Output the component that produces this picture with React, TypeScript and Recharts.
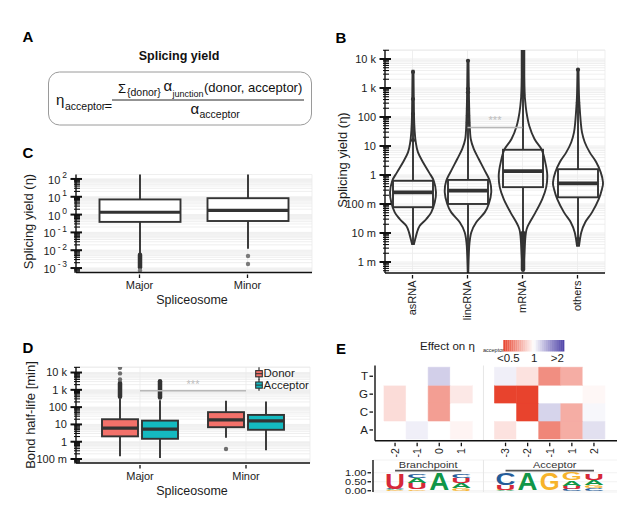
import React from 'react'
import {
  ComposedChart,
  BarChart,
  Bar,
  XAxis,
  YAxis,
  CartesianGrid,
  ReferenceLine,
  Cell,
} from 'recharts'

const font = '"Liberation Sans", Arial, Helvetica, sans-serif'
const textInk = '#1c1c1c'
const lineInk = '#333333'
const axisInk = '#111111'
const gridColor = '#ebebeb'

// ---------- B: splicing yield per transcript class (log10 eta) ----------
const rnaClasses = ['asRNA', 'lincRNA', 'mRNA', 'others']
const yieldQ1 = [-1.11, -1.0, -0.42, -0.77]
const yieldMedian = [-0.6, -0.54, 0.13, -0.29]
const yieldQ3 = [-0.2, -0.17, 0.87, 0.2]
const yieldWhiskerLo = [-2.38, -3.36, -3.3, -2.44]
const yieldWhiskerHi = [3.6, 3.94, 4.4, 3.63]
const yieldOutliers = [
  [1.2, 2.1, 2.62, 3.55],
  [1.82, 2.05, 2.28, 2.85, 2.97, 3.94],
  [],
  [-2.38, -2.2, 2.39, 2.5, 3.63],
]
const yieldOutlierRuns = [[], [], [[-3.25, -2.0], [2.75, 4.4]], []]
// violin outline: [log10 eta, relative half width]
const violinAsRNA = [
  [-2.38, 0.04], [-1.98, 0.16], [-1.75, 0.27], [-1.52, 0.53], [-1.29, 0.73],
  [-0.94, 0.87], [-0.6, 0.92], [-0.2, 0.83], [0.09, 0.64], [0.44, 0.4],
  [0.78, 0.2], [1.13, 0.11], [1.47, 0.07], [2.05, 0.04], [3.6, 0.02],
]
const violinLincRNA = [
  [-3.36, 0.01], [-2.44, 0.05], [-1.98, 0.13], [-1.63, 0.33], [-1.29, 0.67],
  [-1.0, 0.83], [-0.6, 0.93], [-0.2, 0.87], [0.2, 0.64], [0.55, 0.43],
  [0.9, 0.23], [1.24, 0.11], [1.7, 0.07], [2.62, 0.04], [3.94, 0.02],
]
const violinMRNA = [
  [-3.3, 0.02], [-2.1, 0.1], [-1.75, 0.2], [-1.29, 0.5], [-0.83, 0.77],
  [-0.42, 0.93], [0.0, 0.97], [0.4, 0.9], [0.87, 0.75], [1.24, 0.46],
  [1.7, 0.25], [2.16, 0.14], [2.62, 0.08], [3.08, 0.05], [4.4, 0.02],
]
const violinOthers = [
  [-2.44, 0.04], [-1.98, 0.13], [-1.63, 0.29], [-1.29, 0.56], [-0.83, 0.83],
  [-0.48, 0.96], [-0.25, 1.0], [0.09, 0.91], [0.44, 0.73], [0.78, 0.47],
  [1.13, 0.27], [1.47, 0.16], [1.82, 0.11], [2.28, 0.07], [2.74, 0.04], [3.63, 0.02],
]
const yieldViolins = [violinAsRNA, violinLincRNA, violinMRNA, violinOthers]
const yieldTickExps = [-3, -2, -1, 0, 1, 2, 3, 4]
const yieldTickLabels = ['1 m', '10 m', '100 m', '1', '10', '100', '1 k', '10 k']

// ---------- C: splicing yield per spliceosome (log10 eta) ----------
const spliceosomes = ['Major', 'Minor']
const cQ1 = [-0.41, -0.36]
const cMedian = [0.13, 0.24]
const cQ3 = [0.85, 0.92]
const cWhiskerLo = [-2.2, -1.92]
const cWhiskerHi = [2.3, 2.3]
const cOutliers = [[-3.14], [-2.32, -2.77]]
const cOutlierRuns = [[[-2.95, -2.25]], []]
const cTickExps = [-3, -2, -1, 0, 1, 2]

// ---------- D: bond half-life (log10 min) ----------
const donorQ1 = [0.31, 0.84]
const donorMedian = [0.79, 1.26]
const donorQ3 = [1.3, 1.71]
const donorWhiskerLo = [-0.84, 0.23]
const donorWhiskerHi = [2.5, 2.37]
const donorOutliers = [[3.6, 3.95, 4.28], [-0.42]]
const donorOutlierRuns = [[[2.6, 3.4]], []]
const acceptorQ1 = [0.17, 0.69]
const acceptorMedian = [0.73, 1.21]
const acceptorQ3 = [1.22, 1.55]
const acceptorWhiskerLo = [-0.94, -0.5]
const acceptorWhiskerHi = [2.4, 2.32]
const acceptorOutliers = [[], []]
const acceptorOutlierRuns = [[[2.55, 3.5]], []]
const halfLifeTickExps = [-1, 0, 1, 2, 3, 4]
const halfLifeTickLabels = ['100 m', '1', '10', '100', '1 k', '10 k']

// ---------- E: effect on eta_acceptor, and sequence logo ----------
const positionIds = ['bp-2', 'bp-1', 'bp0', 'bp1', 'gap', 'acc-3', 'acc-2', 'acc-1', 'acc1', 'acc2']
const positionLabels = ['-2', '-1', '0', '1', '', '-3', '-2', '-1', '1', '2']
const heatBases = ['A', 'C', 'G', 'T']
const effectA = [1, 1.06, 1, 0.96, null, 0.9, 1, 0.64, 0.74, 1.12]
const effectC = [0.88, 1, 0.7, 1, null, 1, 0.5, 1.17, 0.74, 1.03]
const effectG = [0.88, 1, 0.7, 0.92, null, 0.5, 0.5, 1, 1, 0.97]
const effectT = [1, 1, 1.19, 1, null, 1.06, 0.9, 0.66, 0.74, 1]
// logo stacks, bottom to top: [letter, probability]
const logoStacks = [
  [['G', 0.04], ['A', 0.03], ['C', 0.03], ['U', 0.88]],
  [['G', 0.1], ['U', 0.33], ['A', 0.3], ['C', 0.22]],
  [['C', 0.02], ['G', 0.02], ['U', 0.02], ['A', 0.93]],
  [['G', 0.13], ['A', 0.3], ['U', 0.3], ['C', 0.24]],
  [],
  [['A', 0.03], ['G', 0.03], ['U', 0.27], ['C', 0.64]],
  [['C', 0.02], ['G', 0.02], ['U', 0.02], ['A', 0.93]],
  [['A', 0.02], ['C', 0.02], ['U', 0.02], ['G', 0.93]],
  [['C', 0.12], ['U', 0.15], ['A', 0.3], ['G', 0.4]],
  [['C', 0.15], ['G', 0.15], ['A', 0.3], ['U', 0.38]],
]

const letterColor: Record<string, string> = { A: '#109648', C: '#255C99', G: '#F7B32B', U: '#D62839' }
const letterWidthEm: Record<string, number> = { A: 0.722, C: 0.722, G: 0.778, U: 0.722 }

// ---------- helpers ----------
function boxStats(q1: number, med: number, q3: number, wlo: number, whi: number, dots: number[], runs: number[][]) {
  const all = [wlo, whi, ...dots, ...runs.flat()]
  return { q1, med, q3, wlo, whi, dots, runs, span: [Math.min(...all), Math.max(...all)] }
}

function logTicks(lo: number, hi: number) {
  const out: number[] = []
  for (let e = Math.floor(lo); e <= Math.ceil(hi); e++) {
    for (let k = 1; k <= 9; k++) {
      const v = +(e + Math.log10(k)).toFixed(6)
      if (v >= lo && v <= hi) out.push(v)
    }
  }
  return out
}

function effectColor(r: number | null) {
  if (r == null) return '#ffffff'
  const t = Math.max(-1, Math.min(1, Math.log2(r)))
  const target = t < 0 ? [232, 67, 45] : [75, 63, 166]
  const a = Math.abs(t)
  const c = target.map((ch) => Math.round(255 + (ch - 255) * a))
  return `rgb(${c[0]},${c[1]},${c[2]})`
}

function curveThrough(pts: number[][]) {
  let d = ''
  for (let i = 0; i < pts.length - 1; i++) {
    const p0 = pts[Math.max(i - 1, 0)]
    const p1 = pts[i]
    const p2 = pts[i + 1]
    const p3 = pts[Math.min(i + 2, pts.length - 1)]
    const c1x = p1[0] + (p2[0] - p0[0]) / 6
    const c1y = p1[1] + (p2[1] - p0[1]) / 6
    const c2x = p2[0] - (p3[0] - p1[0]) / 6
    const c2y = p2[1] - (p3[1] - p1[1]) / 6
    d += ` C${c1x.toFixed(2)},${c1y.toFixed(2)} ${c2x.toFixed(2)},${c2y.toFixed(2)} ${p2[0].toFixed(2)},${p2[1].toFixed(2)}`
  }
  return d
}

// ---------- tables ----------
const yieldRows = rnaClasses.map((name, i) => {
  const s = boxStats(yieldQ1[i], yieldMedian[i], yieldQ3[i], yieldWhiskerLo[i], yieldWhiskerHi[i], yieldOutliers[i], yieldOutlierRuns[i])
  const v = yieldViolins[i]
  return {
    name,
    ...s,
    violin: v,
    span: [Math.min(s.span[0], v[0][0]), Math.max(s.span[1], v[v.length - 1][0])],
  }
})

const cRows = spliceosomes.map((name, i) => {
  const s = boxStats(cQ1[i], cMedian[i], cQ3[i], cWhiskerLo[i], cWhiskerHi[i], cOutliers[i], cOutlierRuns[i])
  return { name, stats: s, span: s.span }
})

const dRows = spliceosomes.map((name, i) => {
  const donor = boxStats(donorQ1[i], donorMedian[i], donorQ3[i], donorWhiskerLo[i], donorWhiskerHi[i], donorOutliers[i], donorOutlierRuns[i])
  const acceptor = boxStats(acceptorQ1[i], acceptorMedian[i], acceptorQ3[i], acceptorWhiskerLo[i], acceptorWhiskerHi[i], acceptorOutliers[i], acceptorOutlierRuns[i])
  return { name, donor, acceptor, donorSpan: donor.span, acceptorSpan: acceptor.span }
})

const effectByBase: Record<string, (number | null)[]> = { A: effectA, C: effectC, G: effectG, T: effectT }
const heatRows = positionIds.map((id, i) => {
  const row: any = { id }
  heatBases.forEach((b) => {
    row[b] = effectByBase[b][i] == null ? null : 1
  })
  return row
})

const logoRows = positionIds.map((id, i) => ({
  id,
  stack: logoStacks[i],
  total: logoStacks[i].reduce((s, l) => s + (l[1] as number), 0),
}))

const labelOfPosition: Record<string, string> = {}
positionIds.forEach((id, i) => {
  labelOfPosition[id] = positionLabels[i]
})

// ---------- shapes ----------
function ViolinBox(props: any) {
  const { x, y, width, height, payload } = props
  const [lo, hi] = payload.span
  const py = (v: number) => y + (height * (hi - v)) / (hi - lo)
  const cx = x + width / 2
  const half = width * 0.625
  const right = payload.violin.map(([v, w]: number[]) => [cx + w * half, py(v)])
  const left = payload.violin.map(([v, w]: number[]) => [cx - w * half, py(v)]).reverse()
  const d = `M${right[0][0]},${right[0][1]}${curveThrough(right)} L${left[0][0]},${left[0][1]}${curveThrough(left)} Z`
  return (
    <g>
      <path d={d} fill="none" stroke={lineInk} strokeWidth={1.9} />
      <line x1={cx} x2={cx} y1={py(payload.wlo)} y2={py(payload.q1)} stroke={lineInk} strokeWidth={1.9} />
      <line x1={cx} x2={cx} y1={py(payload.q3)} y2={py(payload.whi)} stroke={lineInk} strokeWidth={1.9} />
      <rect x={x} width={width} y={py(payload.q3)} height={py(payload.q1) - py(payload.q3)} fill="none" stroke={lineInk} strokeWidth={1.9} />
      <line x1={x} x2={x + width} y1={py(payload.med)} y2={py(payload.med)} stroke={lineInk} strokeWidth={3.8} />
      {payload.runs.map((r: number[], i: number) => (
        <line key={'r' + i} x1={cx} x2={cx} y1={py(r[0])} y2={py(r[1])} stroke={lineInk} strokeWidth={4.5} strokeLinecap="round" />
      ))}
      {payload.dots.map((v: number, i: number) => (
        <circle key={'d' + i} cx={cx} cy={py(v)} r={2.1} fill={lineInk} />
      ))}
    </g>
  )
}

function BoxShape(props: any) {
  const { x, y, width, height, stats, fill, dotColor } = props
  const [lo, hi] = stats.span
  const py = (v: number) => y + (height * (hi - v)) / (hi - lo)
  const cx = x + width / 2
  return (
    <g>
      <line x1={cx} x2={cx} y1={py(stats.wlo)} y2={py(stats.q1)} stroke={lineInk} strokeWidth={1.9} />
      <line x1={cx} x2={cx} y1={py(stats.q3)} y2={py(stats.whi)} stroke={lineInk} strokeWidth={1.9} />
      {stats.runs.map((r: number[], i: number) => (
        <line key={'r' + i} x1={cx} x2={cx} y1={py(r[0])} y2={py(r[1])} stroke={lineInk} strokeWidth={4.5} strokeLinecap="round" />
      ))}
      {stats.dots.map((v: number, i: number) => (
        <circle key={'d' + i} cx={cx} cy={py(v)} r={2.2} fill={dotColor} />
      ))}
      <rect x={x} width={width} y={py(stats.q3)} height={py(stats.q1) - py(stats.q3)} fill={fill} stroke={lineInk} strokeWidth={1.9} />
      <line x1={x} x2={x + width} y1={py(stats.med)} y2={py(stats.med)} stroke={lineInk} strokeWidth={3.2} />
    </g>
  )
}

function LogoStack(props: any) {
  const { x, y, width, height, payload } = props
  if (!payload.stack.length || !height) return null
  const perUnit = height / payload.total
  let cursor = y + height
  return (
    <g>
      {payload.stack.map((entry: any[], i: number) => {
        const letter = entry[0] as string
        const hPx = (entry[1] as number) * perUnit
        const sx = width / (letterWidthEm[letter] * 10)
        const sy = hPx / (0.716 * 10)
        const el = (
          <text
            key={i}
            transform={`translate(${x + width / 2},${cursor}) scale(${sx},${sy})`}
            fontSize={10}
            fontWeight="bold"
            textAnchor="middle"
            fill={letterColor[letter]}
            fontFamily={font}
          >
            {letter}
          </text>
        )
        cursor -= hPx
        return el
      })}
    </g>
  )
}

// ---------- ticks ----------
function LogTick(props: any) {
  const { x, y, payload, labels, superscript } = props
  const v = payload.value
  const n = Math.round(v)
  if (Math.abs(v - n) > 1e-6) {
    return <line x1={x} x2={x + 6} y1={y} y2={y} stroke={axisInk} strokeWidth={1.1} />
  }
  const label = labels[n]
  return (
    <g>
      <line x1={x - 3.5} x2={x + 8} y1={y} y2={y} stroke={axisInk} strokeWidth={2} />
      {superscript ? (
        <text x={x - 7} y={y} dy="0.45em" textAnchor="end" fontSize={11} fill={textInk} fontFamily={font}>
          10
          <tspan dx={2} dy={-5.5} fontSize={8.5}>
            {n < 0 ? '-\u2009' + Math.abs(n) : String(n)}
          </tspan>
        </text>
      ) : (
        <text x={x - 7} y={y} dy="0.36em" textAnchor="end" fontSize={11} fill={textInk} fontFamily={font}>
          {label}
        </text>
      )}
    </g>
  )
}

function FlatTick({ x, y, payload }: any) {
  return (
    <g>
      <line x1={x} x2={x} y1={y} y2={y + 3.5} stroke={axisInk} strokeWidth={1.3} />
      <text x={x} y={y + 14.5} textAnchor="middle" fontSize={11} fill={textInk} fontFamily={font}>
        {payload.value}
      </text>
    </g>
  )
}

function RotatedTick({ x, y, payload, fontSize = 11, lookup }: any) {
  const text = lookup ? lookup[payload.value] : payload.value
  if (!text) return null
  const ty = y + 5.5
  return (
    <g>
      <line x1={x} x2={x} y1={y} y2={y + 3.5} stroke={axisInk} strokeWidth={1.3} />
      <text x={x} y={ty} dy="0.36em" textAnchor="end" transform={`rotate(-90 ${x} ${ty})`} fontSize={fontSize} fill={textInk} fontFamily={font}>
        {text}
      </text>
    </g>
  )
}

function BaseTick({ x, y, payload }: any) {
  const label = heatBases[Math.floor(payload.value)]
  return (
    <g>
      <line x1={x - 3.5} x2={x} y1={y} y2={y} stroke={axisInk} strokeWidth={1.3} />
      <text x={x - 5} y={y} dy="0.36em" textAnchor="end" fontSize={11.5} fill={textInk} fontFamily={font}>
        {label}
      </text>
    </g>
  )
}

function LogoTick({ x, y, payload }: any) {
  return (
    <g>
      <line x1={x - 3.5} x2={x} y1={y} y2={y} stroke={axisInk} strokeWidth={1.3} />
      <text x={x - 4.5} y={y} dy="0.36em" textAnchor="end" fontSize={11} fill={textInk} fontFamily={font}
        transform={`matrix(1 0 0 0.78 0 ${(y * 0.22).toFixed(2)})`}>
        {payload.value.toFixed(2)}
      </text>
    </g>
  )
}

const motifLabel = (text: string, shift: number) => (props: any) => {
  const vb = props.viewBox
  const cx = vb.x + vb.width / 2 + shift
  const by = vb.y - 2.5
  return (
    <text x={cx} y={by} textAnchor="middle" fontSize={11} fill="#333" fontFamily={font}
      transform={`matrix(1 0 0 0.78 0 ${(by * 0.22).toFixed(2)})`}>
      {text}
    </text>
  )
}

const axisLine = { stroke: axisInk, strokeWidth: 1.4 }
const starLabel = { value: '***', position: 'top' as const, offset: 3, fill: '#bdbdbd', fontSize: 11 }

// ---------- panels ----------
function PanelB() {
  return (
    <div style={{ position: 'absolute', left: 300, top: 40 }}>
      <ComposedChart width={317} height={290} data={yieldRows} margin={{ top: 10, right: 12, bottom: 0, left: 0 }}>
        <CartesianGrid stroke={gridColor} strokeWidth={0.8} />
        <XAxis dataKey="name" height={57} tickSize={0} tickLine={false} axisLine={axisLine} interval={0} tick={<RotatedTick />} />
        <YAxis
          type="number"
          domain={[-3.38, 4.31]}
          allowDataOverflow
          ticks={logTicks(-3.38, 4.31)}
          interval={0}
          width={85}
          tickSize={0}
          tickLine={false}
          axisLine={axisLine}
          tick={<LogTick labels={Object.fromEntries(yieldTickExps.map((e, i) => [e, yieldTickLabels[i]]))} />}
        />
        <ReferenceLine segment={[{ x: 'lincRNA', y: 1.64 }, { x: 'mRNA', y: 1.64 }]} stroke="#b8b8b8" strokeWidth={1.5} label={starLabel} />
        <Bar dataKey="span" barSize={40} isAnimationActive={false} shape={(p: any) => <ViolinBox {...p} />} />
      </ComposedChart>
    </div>
  )
}

function PanelC() {
  return (
    <div style={{ position: 'absolute', left: 0, top: 140 }}>
      <ComposedChart width={320} height={175} data={cRows} margin={{ top: 34.5, right: 8, bottom: 0, left: 0 }}>
        <CartesianGrid stroke={gridColor} strokeWidth={0.8} />
        <XAxis dataKey="name" height={42.5} padding={{ left: 9.5, right: 10.5 }} tickSize={0} tickLine={false} axisLine={axisLine} interval={0} tick={<FlatTick />} />
        <YAxis
          type="number"
          domain={[-3.25, 2.25]}
          allowDataOverflow
          ticks={logTicks(-3.25, 2.25)}
          interval={0}
          width={76}
          tickSize={0}
          tickLine={false}
          axisLine={axisLine}
          tick={<LogTick labels={Object.fromEntries(cTickExps.map((e) => [e, String(e)]))} superscript />}
        />
        <Bar dataKey="span" barSize={81} isAnimationActive={false}
          shape={(p: any) => <BoxShape {...p} stats={p.payload.stats} fill="#ffffff" dotColor="#7a7a7a" />} />
      </ComposedChart>
    </div>
  )
}

function PanelD() {
  return (
    <div style={{ position: 'absolute', left: 0, top: 335 }}>
      <ComposedChart width={317} height={165} data={dRows} barGap={4} margin={{ top: 32, right: 7, bottom: 0, left: 0 }}>
        <CartesianGrid stroke={gridColor} strokeWidth={0.8} />
        <XAxis dataKey="name" height={37} padding={{ left: 11, right: 11 }} tickSize={0} tickLine={false} axisLine={axisLine} interval={0} tick={<FlatTick />} />
        <YAxis
          type="number"
          domain={[-1.23, 4.32]}
          allowDataOverflow
          ticks={logTicks(-1.23, 4.32)}
          interval={0}
          width={76}
          tickSize={0}
          tickLine={false}
          axisLine={axisLine}
          tick={<LogTick labels={Object.fromEntries(halfLifeTickExps.map((e, i) => [e, halfLifeTickLabels[i]]))} />}
        />
        <ReferenceLine segment={[{ x: 'Major', y: 2.95 }, { x: 'Minor', y: 2.95 }]} stroke="#b8b8b8" strokeWidth={1.5} label={starLabel} />
        <Bar dataKey="donorSpan" barSize={36} isAnimationActive={false}
          shape={(p: any) => <BoxShape {...p} stats={p.payload.donor} fill="#F3716A" dotColor="#6e6e6e" />} />
        <Bar dataKey="acceptorSpan" barSize={36} isAnimationActive={false}
          shape={(p: any) => <BoxShape {...p} stats={p.payload.acceptor} fill="#14BAC0" dotColor="#6e6e6e" />} />
      </ComposedChart>
    </div>
  )
}

function PanelEHeat() {
  return (
    <div style={{ position: 'absolute', left: 330, top: 335 }}>
      <BarChart width={287} height={125} data={heatRows} barCategoryGap={0} barGap={0} margin={{ top: 30.5, right: 0, bottom: 0, left: 0 }}>
        <XAxis dataKey="id" height={19.3} padding={{ left: 9, right: 12 }} tickSize={0} tickLine={false} axisLine={axisLine} interval={0}
          tick={<RotatedTick fontSize={10.5} lookup={labelOfPosition} />} />
        <YAxis type="number" domain={[-0.1, 4.1]} allowDataOverflow ticks={[0.5, 1.5, 2.5, 3.5]} interval={0} width={45}
          tickSize={0} tickLine={false} axisLine={axisLine} tick={<BaseTick />} />
        <ReferenceLine x="gap" stroke="#e6e6e6" strokeWidth={1} />
        {heatBases.map((b) => (
          <Bar key={b} dataKey={b} stackId="tile" isAnimationActive={false}>
            {heatRows.map((r, i) => {
              const c = effectColor(effectByBase[b][i])
              return <Cell key={i} fill={c} stroke={c} strokeWidth={0.6} />
            })}
          </Bar>
        ))}
      </BarChart>
    </div>
  )
}

function PanelELogo() {
  return (
    <div style={{ position: 'absolute', left: 330, top: 455 }}>
      <BarChart width={287} height={45} data={logoRows} margin={{ top: 5, right: 0, bottom: 8, left: 0 }}>
        <CartesianGrid stroke="#efefef" strokeWidth={0.8} vertical={false} />
        <XAxis dataKey="id" orientation="top" height={0} padding={{ left: 11, right: 12 }} tick={false} tickLine={false} axisLine={{ stroke: axisInk, strokeWidth: 1.6 }} />
        <YAxis type="number" domain={[-0.07, 1.71]} allowDataOverflow ticks={[0, 0.5, 1]} interval={0} width={43}
          tickSize={0} tickLine={false} axisLine={axisLine} tick={<LogoTick />} />
        <ReferenceLine x="gap" stroke="#e6e6e6" strokeWidth={1} />
        <ReferenceLine segment={[{ x: 'bp-2', y: 1.12 }, { x: 'bp1', y: 1.12 }]} stroke="#555" strokeWidth={1.8} label={motifLabel('Branchpoint', 0)} />
        <ReferenceLine segment={[{ x: 'acc-3', y: 1.12 }, { x: 'acc2', y: 1.12 }]} stroke="#555" strokeWidth={1.8} label={motifLabel('Acceptor', 5)} />
        <Bar dataKey="total" barSize={20} isAnimationActive={false} shape={(p: any) => <LogoStack {...p} />} />
      </BarChart>
    </div>
  )
}

function Annotations() {
  const legendSteps = Array.from({ length: 30 }, (_, i) => i)
  return (
    <svg width={617} height={516} style={{ position: 'absolute', left: 0, top: 0, pointerEvents: 'none' }} fontFamily={font}>
      <g fontSize={15} fontWeight="bold" fill="#000">
        <text x={22.5} y={41.7}>A</text>
        <text x={335.5} y={42.7}>B</text>
        <text x={22.5} y={158.3}>C</text>
        <text x={22.5} y={352.7}>D</text>
        <text x={336} y={354}>E</text>
      </g>

      {/* A: definition of the splicing yield */}
      <g fill="#111">
        <text x={179} y={59.5} fontSize={12.5} fontWeight="bold" textAnchor="middle">Splicing yield</text>
        <rect x={48.5} y={72} width={263} height={53} rx={11} fill="none" stroke="#9a9a9a" strokeWidth={1} />
        <text x={56} y={105} fontSize={15}>η</text>
        <text x={65} y={110} fontSize={10.5}>acceptor</text>
        <text x={104.5} y={110} fontSize={13}>=</text>
        <text x={118} y={92.5} fontSize={13}>Σ</text>
        <text x={127} y={95.8} fontSize={10.5}>{'{donor}'}</text>
        <text x={163.5} y={91} fontSize={15}>α</text>
        <text x={172.5} y={96.5} fontSize={9}>junction</text>
        <text x={204} y={92.3} fontSize={13}>(donor, acceptor)</text>
        <line x1={112} x2={304} y1={100} y2={100} stroke="#111" strokeWidth={0.9} />
        <text x={190.5} y={114} fontSize={15}>α</text>
        <text x={199.5} y={117.5} fontSize={10.5}>acceptor</text>
      </g>

      {/* axis titles */}
      <g fill={textInk} fontSize={13} textAnchor="middle">
        <text transform="translate(342,160) rotate(-90)" dy="0.35em">Splicing yield (η)</text>
        <text transform="translate(28,221.5) rotate(-90)" dy="0.35em">Splicing yield (η)</text>
        <text transform="translate(30,415) rotate(-90)" dy="0.35em">Bond half-life [min]</text>
        <text x={192} y={303.5} fontSize={12.5}>Spliceosome</text>
        <text x={192} y={494.5} fontSize={12.5}>Spliceosome</text>
      </g>

      {/* D legend */}
      <g>
        <line x1={259} x2={259} y1={367.3} y2={380} stroke={lineInk} strokeWidth={1.2} />
        <rect x={255.7} y={370.6} width={6.6} height={6.2} fill="#F3716A" stroke={lineInk} strokeWidth={1.1} />
        <line x1={255.7} x2={262.3} y1={373.7} y2={373.7} stroke={lineInk} strokeWidth={1.1} />
        <line x1={259} x2={259} y1={379.3} y2={390.7} stroke={lineInk} strokeWidth={1.2} />
        <rect x={255.7} y={382} width={6.6} height={6.2} fill="#14BAC0" stroke={lineInk} strokeWidth={1.1} />
        <line x1={255.7} x2={262.3} y1={385.1} y2={385.1} stroke={lineInk} strokeWidth={1.1} />
        <text x={263.5} y={377.3} fontSize={11.5} fill={textInk}>Donor</text>
        <text x={263.5} y={389.2} fontSize={11.5} fill={textInk}>Acceptor</text>
      </g>

      {/* E legend */}
      <g fill={textInk}>
        <text x={420} y={350} fontSize={11.5}>Effect on η</text>
        <text x={483} y={352} fontSize={5.5}>acceptor</text>
        {legendSteps.map((i) => {
          const t = -1 + (i + 0.5) / 15
          return <rect key={i} x={503.3 + i * 2.03} y={340} width={2.2} height={11.5} fill={effectColor(Math.pow(2, t))} />
        })}
        <text x={508.3} y={361.5} fontSize={11.5} textAnchor="middle">{'<0.5'}</text>
        <text x={534.3} y={361.5} fontSize={11.5} textAnchor="middle">1</text>
        <text x={557.3} y={361.5} fontSize={11.5} textAnchor="middle">{'>2'}</text>
      </g>
    </svg>
  )
}

export default function App() {
  return (
    <div style={{ position: 'absolute', left: 0, top: 0, width: 617, height: 516, overflow: 'hidden', background: '#fff', fontFamily: font }}>
      <PanelB />
      <PanelC />
      <PanelD />
      <PanelEHeat />
      <PanelELogo />
      <Annotations />
    </div>
  )
}
